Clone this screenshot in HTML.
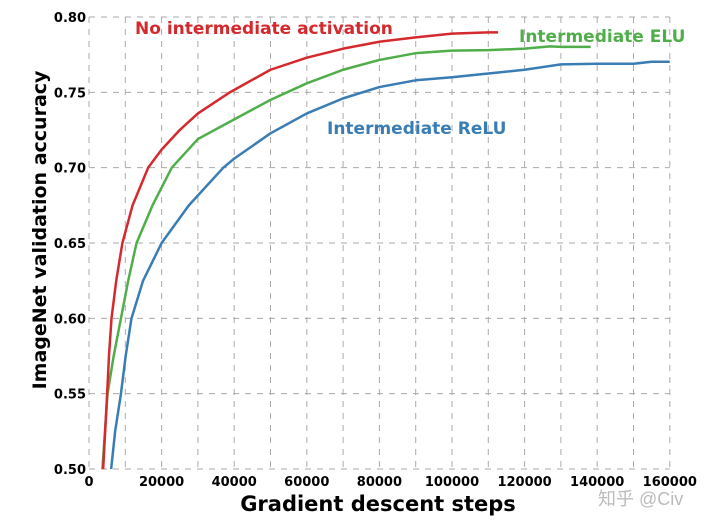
<!DOCTYPE html>
<html><head><meta charset="utf-8"><style>
body{margin:0;background:#fff;}
svg{display:block;font-family:"DejaVu Sans","Liberation Sans",sans-serif;}
</style></head><body>
<svg id="chart" width="720" height="526" viewBox="0 0 720 526"></svg>
<script>
const xTicks=[0,20000,40000,60000,80000,100000,120000,140000,160000];
const yTicks=[0.50,0.55,0.60,0.65,0.70,0.75,0.80];
const redX=[3900,5000,5500,6200,7500,9200,12000,16300,20000,25000,30000,38800,50000,60000,70000,80000,90000,100000,110000,112700];
const redY=[0.50,0.55,0.575,0.60,0.625,0.65,0.675,0.70,0.712,0.725,0.736,0.75,0.765,0.773,0.779,0.7836,0.7865,0.789,0.7898,0.7898];
const greenX=[3700,5100,6800,8800,10800,13100,17500,22800,30000,38800,50000,60000,70000,80000,90000,100000,110000,120000,127000,130000,138200];
const greenY=[0.50,0.55,0.575,0.60,0.625,0.65,0.675,0.70,0.719,0.7305,0.745,0.756,0.765,0.7715,0.776,0.7777,0.778,0.779,0.7805,0.7802,0.7802];
const blueX=[6100,7200,8800,10100,11700,14900,20000,27500,37000,40000,50000,60000,70000,80000,90000,100000,110000,120000,130000,140000,150000,155000,160000];
const blueY=[0.50,0.525,0.55,0.575,0.60,0.625,0.65,0.675,0.70,0.706,0.7228,0.736,0.746,0.7535,0.758,0.760,0.7625,0.765,0.7686,0.769,0.769,0.7703,0.7703];
const NS="http://www.w3.org/2000/svg";
const svg=document.getElementById('chart');
const X=v=>89+v/10000*36.3;
const Y=v=>469-(v-0.5)/0.05*75.33;
function mk(t,a){const e=document.createElementNS(NS,t);for(const k in a)e.setAttribute(k,a[k]);svg.appendChild(e);return e;}
for(let i=0;i<=16;i++){const v=i*10000;
 const g=mk('line',{x1:X(v),x2:X(v),y1:Y(0.8),y2:Y(0.5),stroke:'#aaa','stroke-dasharray':'6,6','stroke-width':1});
 
 }
yTicks.forEach(v=>{
 const g=mk('line',{x1:X(0),x2:X(160000),y1:Y(v),y2:Y(v),stroke:'#aaa','stroke-dasharray':'6,6','stroke-width':1});
 
 
 const t=mk('text',{x:86,y:Y(v)+5,'text-anchor':'end','font-size':13,'font-weight':'bold'});
 t.textContent=v.toFixed(2);
 
 
});
xTicks.forEach(v=>{
 const t=mk('text',{x:X(v),y:486,'text-anchor':'middle','font-size':13,'font-weight':'bold'});
 t.textContent=v;
 
 
});
function line(xs,ys,c,n){
 const p=mk('polyline',{points:xs.map((x,i)=>X(x)+','+Y(ys[i])).join(' '),fill:'none',stroke:c,'stroke-width':2.5,'stroke-linejoin':'round'});
 
 
}
line(blueX,blueY,'#3a7db5','relu-line');
line(greenX,greenY,'#4fae4a','elu-line');
line(redX,redY,'#d42a2e','no-activation-line');
function lab(txt,x,y,c,n){const t=mk('text',{x:x,y:y,fill:c,'font-size':17,'font-weight':'bold'});t.textContent=txt;
 
 }
lab('No intermediate activation',135,34,'#d42a2e','label-no-activation');
lab('Intermediate ELU',519,42,'#4fae4a','label-elu');
lab('Intermediate ReLU',327,134,'#3a7db5','label-relu');
const xt=mk('text',{x:378,y:511,'text-anchor':'middle','font-size':21,'font-weight':'bold'});xt.textContent='Gradient descent steps';


const yt=mk('text',{x:0,y:0,'text-anchor':'middle','font-size':19,'font-weight':'bold',transform:'translate(46,230) rotate(-90)'});yt.textContent='ImageNet validation accuracy';


const wm=mk('text',{x:598,y:505,fill:'#bbb','font-size':18,'font-family':'"Liberation Sans","Noto Sans CJK SC",sans-serif'});wm.textContent='知乎 @Civ';


</script>
</body></html>
